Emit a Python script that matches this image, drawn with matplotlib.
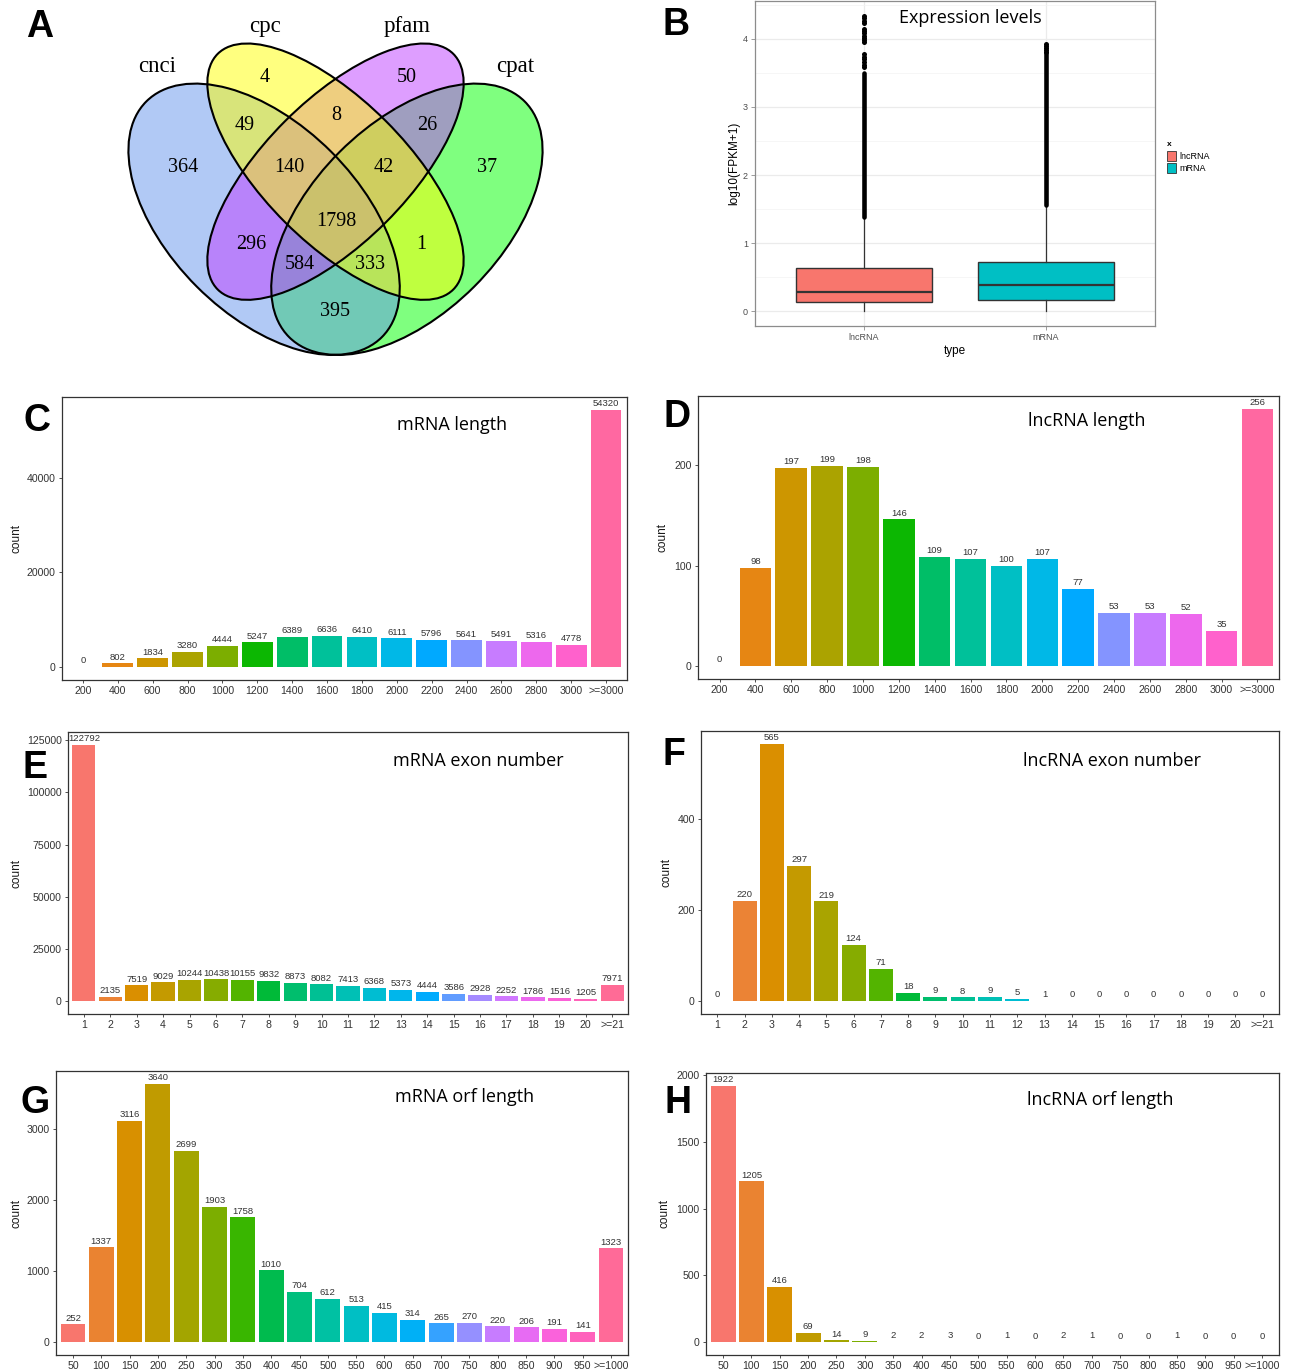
import matplotlib
matplotlib.use('Agg')
import matplotlib.pyplot as plt
from matplotlib.patches import Ellipse, Patch
import numpy as np

plt.rcParams['font.family'] = ['Liberation Sans', 'DejaVu Sans']

# ---- data ----
venn_sets = ['cnci', 'cpc', 'pfam', 'cpat']
# regions: cnci, cpc, pfam, cpat, cnci&cpc, cpc&pfam, pfam&cpat, cnci&cpc&pfam,
# cpc&pfam&cpat, all, cnci&pfam, cpc&cpat, cnci&pfam&cpat, cnci&cpc&cpat, cnci&cpat
venn_counts = [364, 4, 50, 37, 49, 8, 26, 140, 42, 1798, 296, 1, 584, 333, 395]

box_groups = ['lncRNA', 'mRNA']
box_q1 = [0.13, 0.165]
box_med = [0.285, 0.385]
box_q3 = [0.63, 0.73]
box_whislo = [0.0, 0.0]
box_whishi = [1.37, 1.55]
# outliers: a dense run of points and the sparse ones above it
dense_lo = [1.38, 1.56]
dense_hi = [3.50, 3.79]
sparse_lnc = [3.59, 3.62, 3.66, 3.70, 3.74, 3.78, 3.96, 3.99, 4.02, 4.05, 4.08,
              4.11, 4.14, 4.24, 4.27, 4.30, 4.33]
sparse_mrna = [3.81, 3.84, 3.87, 3.90, 3.93]

len_labels = ['200', '400', '600', '800', '1000', '1200', '1400', '1600', '1800',
              '2000', '2200', '2400', '2600', '2800', '3000', '>=3000']
mrna_len = [0, 802, 1834, 3280, 4444, 5247, 6389, 6636, 6410, 6111, 5796, 5641,
            5491, 5316, 4778, 54320]
lnc_len = [0, 98, 197, 199, 198, 146, 109, 107, 100, 107, 77, 53, 53, 52, 35, 256]

exon_labels = [str(i) for i in range(1, 21)] + ['>=21']
mrna_exon = [122792, 2135, 7519, 9029, 10244, 10438, 10155, 9832, 8873, 8082, 7413,
             6368, 5373, 4444, 3586, 2928, 2252, 1786, 1516, 1205, 7971]
lnc_exon = [0, 220, 565, 297, 219, 124, 71, 18, 9, 8, 9, 5, 1, 0, 0, 0, 0, 0, 0, 0, 0]

orf_labels = [str(i) for i in range(50, 1000, 50)] + ['>=1000']
mrna_orf = [252, 1337, 3116, 3640, 2699, 1903, 1758, 1010, 704, 612, 513, 415, 314,
            265, 270, 220, 206, 191, 141, 1323]
lnc_orf = [1922, 1205, 416, 69, 14, 9, 2, 2, 3, 0, 1, 0, 2, 1, 0, 0, 1, 0, 0, 0]

W, H = 1290, 1370
fig = plt.figure(figsize=(W / 100, H / 100), dpi=100)


def px_axes(l, t, r, b):
    return fig.add_axes([l / W, 1 - b / H, (r - l) / W, (b - t) / H])


def px_text(x, y, s, **kw):
    kw.setdefault('ha', 'center')
    kw.setdefault('va', 'center')
    return fig.text(x / W, 1 - y / H, s, **kw)


def hcl_hex(h, c=100, l=65):
    # polar LUV -> sRGB, same as R's hcl()
    xn, yn, zn = 95.047, 100.0, 108.883
    un = 4 * xn / (xn + 15 * yn + 3 * zn)
    vn = 9 * yn / (xn + 15 * yn + 3 * zn)
    u = c * np.cos(np.radians(h))
    v = c * np.sin(np.radians(h))
    y = yn * ((l + 16) / 116) ** 3
    up = u / (13 * l) + un
    vp = v / (13 * l) + vn
    x = y * 9 * up / (4 * vp)
    z = y * (12 - 3 * up - 20 * vp) / (4 * vp)
    x, y, z = x / 100, y / 100, z / 100
    rgb = [3.240479 * x - 1.537150 * y - 0.498535 * z,
           -0.969256 * x + 1.875992 * y + 0.041556 * z,
           0.055648 * x - 0.204043 * y + 1.057311 * z]
    out = []
    for t in rgb:
        t = min(max(t, 0.0), 1.0)
        t = 1.055 * t ** (1 / 2.4) - 0.055 if t > 0.0031308 else 12.92 * t
        out.append(min(max(t, 0.0), 1.0))
    return tuple(out)


def hue_pal(n):
    return [hcl_hex(h) for h in np.linspace(15, 375, n + 1)[:-1]]


letter_kw = dict(family=['Liberation Sans Narrow', 'Liberation Sans'], fontsize=27, fontweight='bold')
title_kw = dict(family=['Open Sans', 'DejaVu Sans'], fontsize=13)

# ---- A: Venn ----
S, ox, oy = 476.0, 97.5, 443.0
axA = px_axes(0, 0, 640, 370)
axA.set_xlim((0 - ox) / S, (640 - ox) / S)
axA.set_ylim((oy - 370) / S, oy / S)
axA.axis('off')
ell_geom = [(0.35, 0.47, 0.35, 0.20, -45), (0.50, 0.57, 0.35, 0.15, -45),
            (0.50, 0.57, 0.35, 0.15, 45), (0.65, 0.47, 0.35, 0.20, 45)]
venn_fill = ['#6495ED', '#FFFF00', '#BF3EFF', '#00FF00']
# fills are stacked cpat, cnci, pfam, cpc so the overlaps blend that way
for i in [3, 0, 2, 1]:
    cx, cy, a, b, ang = ell_geom[i]
    axA.add_patch(Ellipse((cx, cy), 2 * a, 2 * b, angle=ang, facecolor=venn_fill[i], alpha=0.5, lw=0))
for (cx, cy, a, b, ang) in ell_geom:
    axA.add_patch(Ellipse((cx, cy), 2 * a, 2 * b, angle=ang, fill=False, edgecolor='black', lw=1.5))
venn_pos = [(0.180, 0.578), (0.352, 0.767), (0.650, 0.767), (0.818, 0.578),
            (0.310, 0.666), (0.501, 0.687), (0.692, 0.666), (0.402, 0.578),
            (0.602, 0.578), (0.501, 0.466), (0.322, 0.418), (0.680, 0.418),
            (0.425, 0.376), (0.572, 0.376), (0.499, 0.277)]
for (px, py), n in zip(venn_pos, venn_counts):
    axA.text(px, py, str(n), ha='center', va='center', family='Liberation Serif', fontsize=14.5)
set_pos = [(0.125, 0.790), (0.352, 0.876), (0.650, 0.876), (0.877, 0.790)]
for (px, py), name in zip(set_pos, venn_sets):
    axA.text(px, py, name, ha='center', va='center', family='Liberation Serif', fontsize=16.5)
px_text(40, 27, 'A', **letter_kw)

# ---- B: expression box plot ----
axB = px_axes(755, 1, 1155, 326)
box_cols = hue_pal(2)
stats = [dict(med=m, q1=a, q3=b, whislo=lo, whishi=hi, label=g)
         for g, a, m, b, lo, hi in zip(box_groups, box_q1, box_med, box_q3, box_whislo, box_whishi)]
bp = axB.bxp(stats, positions=[1, 2], widths=0.75, patch_artist=True, showfliers=False,
             showcaps=False,
             boxprops=dict(edgecolor='#333333', lw=1.0),
             medianprops=dict(color='#333333', lw=1.6),
             whiskerprops=dict(color='#333333', lw=0.9))
for patch, col in zip(bp['boxes'], box_cols):
    patch.set_facecolor(col)
for i, (lo, hi, sp) in enumerate(zip(dense_lo, dense_hi, [sparse_lnc, sparse_mrna])):
    axB.plot([i + 1, i + 1], [lo, hi], color='black', lw=3.3, solid_capstyle='round')
    axB.plot([i + 1] * len(sp), sp, 'o', color='black', ms=3.6, mew=0)
axB.set_xlim(0.4, 2.6)
top = 4.34
axB.set_ylim(-0.05 * top, 1.05 * top)
axB.set_yticks([0, 1, 2, 3, 4])
axB.set_yticks(np.arange(0.5, 4.6, 1.0), minor=True)
axB.set_xticks([1, 2], box_groups)
axB.grid(which='major', color='#EBEBEB', lw=0.9)
axB.grid(which='minor', axis='y', color='#F3F3F3', lw=0.5)
axB.set_axisbelow(True)
for sp in axB.spines.values():
    sp.set_color('#8C8C8C')
    sp.set_linewidth(0.9)
axB.tick_params(which='major', length=3, width=0.6, color='#8C8C8C', labelsize=6.5,
                labelcolor='#4D4D4D', pad=2)
axB.tick_params(which='minor', length=0)
axB.set_xlabel('type', fontsize=8.5, labelpad=2)
axB.set_ylabel('log10(FPKM+1)', fontsize=8.5, labelpad=2)
px_text(970, 18, 'Expression levels', **title_kw)
handles = [Patch(facecolor=c, edgecolor='#333333', lw=0.6) for c in box_cols]
leg = fig.legend(handles, box_groups, title='x', loc='upper left',
                 bbox_to_anchor=(1167 / W, 1 - 141 / H), frameon=False, fontsize=6.5,
                 title_fontproperties=dict(size=6, weight='bold'), handlelength=1.0,
                 handleheight=1.3, handletextpad=0.4, labelspacing=0.3,
                 borderpad=0, borderaxespad=0)
leg._legend_box.align = 'left'
px_text(676, 25, 'B', **letter_kw)


# ---- C-H: count bar charts ----
def bar_panel(rect, labels, counts, yticks, title, title_xy, letter, letter_xy, count_x):
    ax = px_axes(*rect)
    n = len(counts)
    x = np.arange(1, n + 1)
    ax.bar(x, counts, width=0.88, color=hue_pal(n), linewidth=0)
    top = max(counts)
    ax.set_xlim(0.4, n + 0.6)
    ax.set_ylim(-0.05 * top, 1.05 * top)
    for xi, c in zip(x, counts):
        ax.annotate(str(c), (xi, c), xytext=(0, 1.2), textcoords='offset points',
                    ha='center', va='bottom', fontsize=6.8, color='#333333')
    ax.set_xticks(x, labels)
    ax.set_yticks(yticks)
    for sp in ax.spines.values():
        sp.set_color('#333333')
        sp.set_linewidth(0.9)
    ax.tick_params(length=2.5, width=0.6, color='#333333', labelsize=7.6,
                   labelcolor='#333333', pad=2)
    px_text(count_x, (rect[1] + rect[3]) / 2, 'count', rotation=90, fontsize=8.5, color='#1a1a1a')
    px_text(title_xy[0], title_xy[1], title, **title_kw)
    px_text(letter_xy[0], letter_xy[1], letter, **letter_kw)
    return ax


bar_panel((62, 397, 627, 680), len_labels, mrna_len, [0, 20000, 40000],
          'mRNA length', (452, 425), 'C', (37, 421), 16)
bar_panel((698, 396, 1279, 679), len_labels, lnc_len, [0, 100, 200],
          'lncRNA length', (1087, 421), 'D', (677, 417), 663)
bar_panel((68, 732, 628, 1014), exon_labels, mrna_exon, [0, 25000, 50000, 75000, 100000, 125000],
          'mRNA exon number', (478, 761), 'E', (35, 768), 16)
bar_panel((701, 731, 1279, 1014), exon_labels, lnc_exon, [0, 200, 400],
          'lncRNA exon number', (1112, 761), 'F', (674, 755), 666)
bar_panel((56, 1071, 628, 1355), orf_labels, mrna_orf, [0, 1000, 2000, 3000],
          'mRNA orf length', (465, 1097), 'G', (35, 1103), 16)
bar_panel((706, 1073, 1279, 1355), orf_labels, lnc_orf, [0, 500, 1000, 1500, 2000],
          'lncRNA orf length', (1100, 1100), 'H', (678, 1103), 665)

fig.savefig('out.png', dpi=100)
